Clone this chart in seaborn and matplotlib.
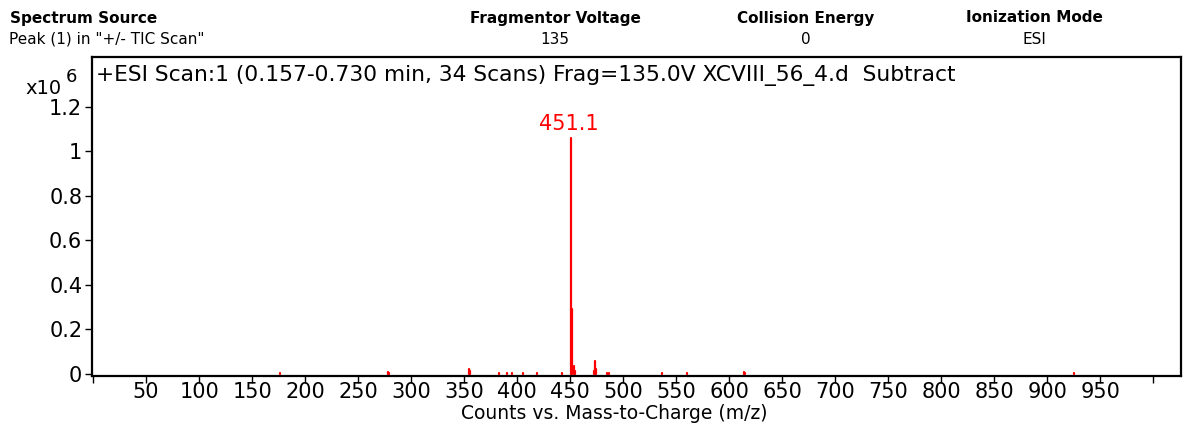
import numpy as np
import pandas as pd
import matplotlib
matplotlib.use("Agg")
import matplotlib.pyplot as plt
import seaborn as sns

# Peak list (m/z, counts in x10^6)
mz = [176.1, 278.1, 279.1, 354.9, 355.9, 383.0, 390.0, 395.0, 405.0, 419.0, 442.0,
      451.1, 452.1, 453.1, 454.1, 472.1, 473.1, 474.1, 484.6, 487.0,
      537.0, 560.0, 614.0, 615.0, 925.0]
counts = [0.006, 0.010, 0.005, 0.022, 0.012, 0.005, 0.003, 0.003, 0.003, 0.003, 0.003,
          1.060, 0.290, 0.035, 0.015, 0.015, 0.060, 0.020, 0.004, 0.004,
          0.003, 0.003, 0.008, 0.004, 0.004]
base_peak = 451.1

x_ticks = list(range(0, 1001, 50))
x_labels = [str(t) if 50 <= t <= 950 else "" for t in x_ticks]
y_ticks = [0, 0.2, 0.4, 0.6, 0.8, 1.0, 1.2]
y_labels = ["0", "0.2", "0.4", "0.6", "0.8", "1", "1.2"]

hdr_titles = ["Fragmentor Voltage", "Collision Energy", "Ionization Mode"]
hdr_values = ["135", "0", "ESI"]
hdr_xpos = [555, 806, 1034]

# stick spectrum: each peak is its own 0 -> height line
mz_arr = np.asarray(mz)
ct_arr = np.asarray(counts)
sticks = pd.DataFrame({
    "mz": np.repeat(mz_arr, 2),
    "counts": np.column_stack([np.zeros_like(ct_arr), ct_arr]).ravel(),
    "peak": np.repeat(np.arange(len(mz)), 2),
})

sns.set_style("white")
plt.rcParams["font.family"] = ["DejaVu Sans"]
plt.rcParams["text.color"] = "black"

W, H = 1184, 433
fig = plt.figure(figsize=(W / 100, H / 100), dpi=100)
ax = fig.add_axes([92 / W, 1 - 375.5 / H, (1181 - 92) / W, (375.5 - 57) / H])

sns.lineplot(data=sticks, x="mz", y="counts", units="peak", estimator=None,
             sort=False, color="red", linewidth=1.6, ax=ax)

top = counts[mz.index(base_peak)]
ax.annotate(f"{base_peak:.1f}", xy=(base_peak, top), xytext=(-2, 3),
            textcoords="offset points", ha="center", va="bottom",
            color="red", fontsize=15)

ax.set_xlim(-1, 1026)
ax.set_ylim(-0.007, 1.423)
ax.set_xticks(x_ticks)
ax.set_xticklabels(x_labels)
ax.set_yticks(y_ticks)
ax.set_yticklabels(y_labels)
ax.tick_params(axis="both", direction="out", length=5, width=1, color="black",
               labelsize=15, labelcolor="black", bottom=True, left=True)
ax.tick_params(axis="x", pad=0)
ax.tick_params(axis="y", pad=2)
ax.set_xlabel("Counts vs. Mass-to-Charge (m/z)", fontsize=13.5, color="black")
ax.xaxis.set_label_coords((614 - 92) / (1181 - 92), -0.09)
ax.set_ylabel("")
for s in ax.spines.values():
    s.set_linewidth(1.6)
    s.set_color("black")

ax.text(0.004, 0.975, "+ESI Scan:1 (0.157-0.730 min, 34 Scans) Frag=135.0V XCVIII_56_4.d  Subtract",
        transform=ax.transAxes, ha="left", va="top", fontsize=15.7)

fig.text(25 / W, 1 - 88 / H, "x10", fontsize=14, ha="left", va="center")
fig.text(66 / W, 1 - 77 / H, "6", fontsize=13, ha="left", va="center")

fig.text(10 / W, 1 - 18 / H, "Spectrum Source", fontsize=11, fontweight="bold",
         ha="left", va="center")
fig.text(9 / W, 1 - 39 / H, 'Peak (1) in "+/- TIC Scan"', fontsize=11,
         ha="left", va="center")
for t, v, xp in zip(hdr_titles, hdr_values, hdr_xpos):
    fig.text(xp / W, 1 - 18 / H, t, fontsize=11, fontweight="bold",
             ha="center", va="center")
    fig.text(xp / W, 1 - 39 / H, v, fontsize=11, ha="center", va="center")

fig.savefig("out.png", dpi=100)
